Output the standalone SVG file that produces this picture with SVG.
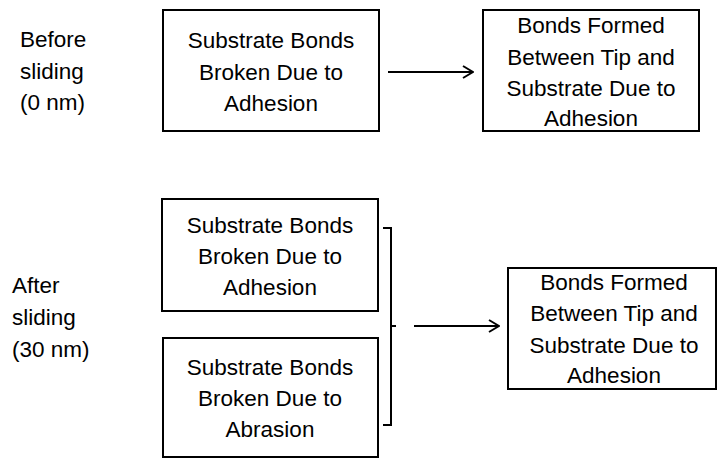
<svg xmlns="http://www.w3.org/2000/svg" width="717" height="458" viewBox="0 0 717 458">
<defs>
<style>
.box{fill:#fff;stroke:#000;stroke-width:2}
.t{font-family:"Liberation Sans",Arial,sans-serif;font-size:22.5px;fill:#000;text-anchor:middle}
.l{font-family:"Liberation Sans",Arial,sans-serif;font-size:22.5px;fill:#000}
.c{fill:none;stroke:#000;stroke-width:2}
</style>
<marker id="ah" markerWidth="12" markerHeight="14" refX="11" refY="7" orient="auto" markerUnits="userSpaceOnUse">
<path d="M1,1 L11,7 L1,13" fill="none" stroke="#000" stroke-width="2"/>
</marker>
</defs>
<rect width="717" height="458" fill="#fff"/>
<g id="label-before">
<text class="l" x="20" y="47">Before</text>
<text class="l" x="20" y="79">sliding</text>
<text class="l" x="20" y="110">(0 nm)</text>
</g>
<g id="label-after">
<text class="l" x="12" y="293">After</text>
<text class="l" x="12" y="325">sliding</text>
<text class="l" x="12" y="357">(30 nm)</text>
</g>
<g id="node-before-broken">
<rect class="box" x="163" y="10" width="216" height="121"/>
<text class="t" x="271" y="48">Substrate Bonds</text>
<text class="t" x="271" y="80">Broken Due to</text>
<text class="t" x="271" y="111">Adhesion</text>
</g>
<g id="node-before-formed">
<rect class="box" x="483" y="10" width="216" height="121"/>
<text class="t" x="591" y="33">Bonds Formed</text>
<text class="t" x="591" y="65">Between Tip and</text>
<text class="t" x="591" y="96">Substrate Due to</text>
<text class="t" x="591" y="126">Adhesion</text>
</g>
<g id="node-after-adhesion">
<rect class="box" x="162" y="199" width="216" height="112"/>
<text class="t" x="270" y="233">Substrate Bonds</text>
<text class="t" x="270" y="264">Broken Due to</text>
<text class="t" x="270" y="295">Adhesion</text>
</g>
<g id="node-after-abrasion">
<rect class="box" x="163" y="338" width="215" height="119"/>
<text class="t" x="270" y="375">Substrate Bonds</text>
<text class="t" x="270" y="406">Broken Due to</text>
<text class="t" x="270" y="437">Abrasion</text>
</g>
<g id="node-after-formed">
<rect class="box" x="508" y="268" width="208" height="121"/>
<text class="t" x="614" y="290">Bonds Formed</text>
<text class="t" x="614" y="321">Between Tip and</text>
<text class="t" x="614" y="353">Substrate Due to</text>
<text class="t" x="614" y="383">Adhesion</text>
</g>
<g id="connectors">
<line class="c" x1="388" y1="72" x2="473" y2="72" marker-end="url(#ah)"/>
<path class="c" d="M383,228 H391 V425 H383 M391,326 H396"/>
<line class="c" x1="414" y1="326" x2="499" y2="326" marker-end="url(#ah)"/>
</g>
</svg>
